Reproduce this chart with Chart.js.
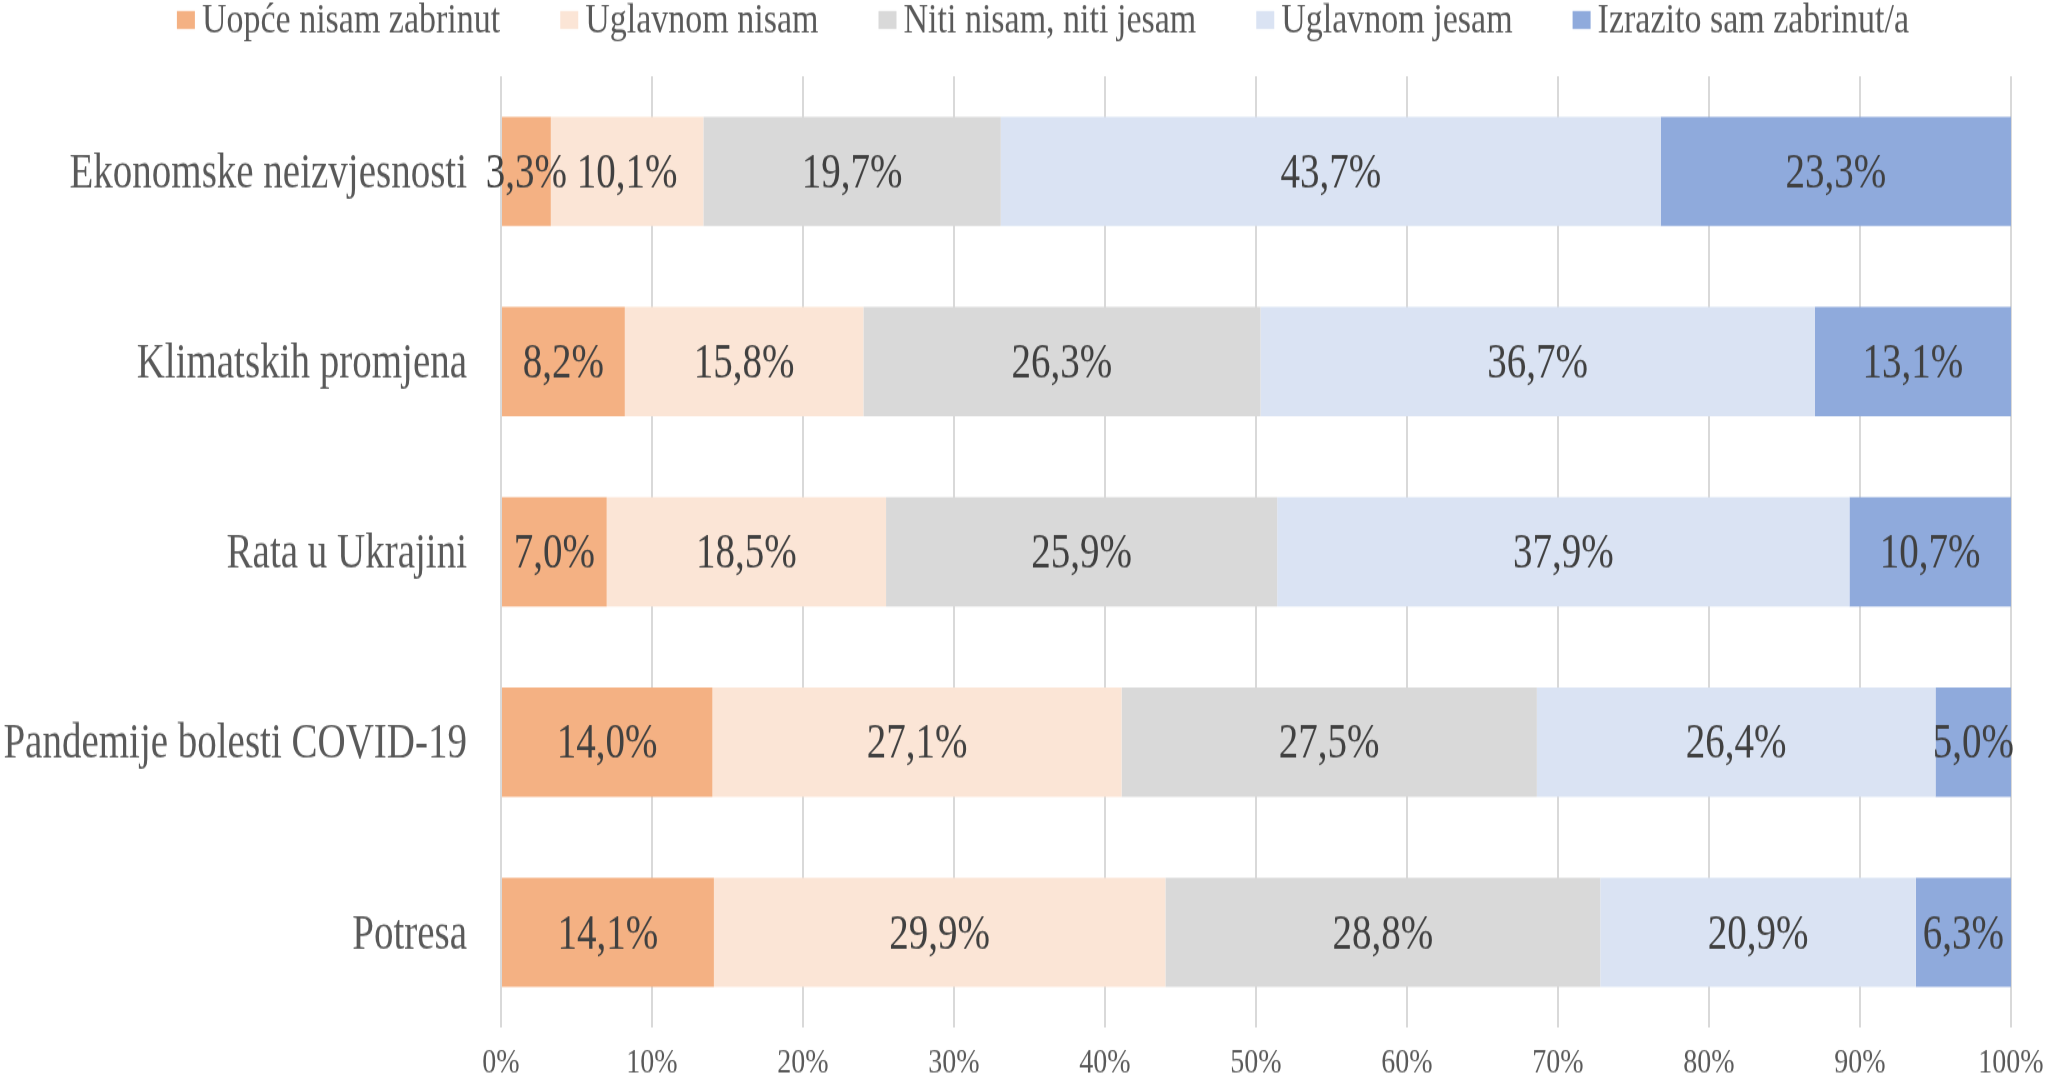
<!DOCTYPE html>
<html>
<head>
<meta charset="utf-8">
<script src="https://cdn.jsdelivr.net/npm/chart.js@4.4.1/dist/chart.umd.min.js"></script>
<style>
  html, body { margin: 0; padding: 0; background: #fff; overflow: hidden; }
  /* the original is drawn a bit tall: 860px bitmap shown 1075px high */
  #chart { display: block; width: 2064px; height: 1075px; }
</style>
</head>
<body>
<canvas id="chart" width="2064" height="860" style="width:2064px;height:1075px"></canvas>
<script>
// categories (top to bottom)
const categories = ['Ekonomske neizvjesnosti', 'Klimatskih promjena', 'Rata u Ukrajini', 'Pandemije bolesti COVID-19', 'Potresa'];

// series names
const seriesNames = ['Uopće nisam zabrinut', 'Uglavnom nisam', 'Niti nisam, niti jesam', 'Uglavnom jesam', 'Izrazito sam zabrinut/a'];

// values in %
const uopceNisam    = [3.3, 8.2, 7.0, 14.0, 14.1];
const uglavnomNisam = [10.1, 15.8, 18.5, 27.1, 29.9];
const nitiNiti      = [19.7, 26.3, 25.9, 27.5, 28.8];
const uglavnomJesam = [43.7, 36.7, 37.9, 26.4, 20.9];
const izrazito      = [23.3, 13.1, 10.7, 5.0, 6.3];

// x axis ticks
const xTicks = [0, 10, 20, 30, 40, 50, 60, 70, 80, 90, 100];

const colors = ['#F4B183', '#FBE5D6', '#D9D9D9', '#DAE3F3', '#8FAADC'];
const seriesValues = [uopceNisam, uglavnomNisam, nitiNiti, uglavnomJesam, izrazito];

const FONT = "'Liberation Serif', 'DejaVu Serif', serif";
const fmt = v => v.toFixed(1).replace('.', ',') + '%';

// legend row drawn by hand (built-in one couples item gap and height)
const topLegend = {
  id: 'topLegend',
  afterDraw(chart) {
    const ctx = chart.ctx;
    const ds = chart.data.datasets;
    const boxW = 18, boxH = 14.4, textGap = 7, itemGap = 60, cy = 16;
    ctx.save();
    ctx.font = '34px ' + FONT;
    ctx.textBaseline = 'middle';
    ctx.textAlign = 'left';
    const widths = ds.map(d => boxW + textGap + ctx.measureText(d.label).width);
    const total = widths.reduce((a, b) => a + b, 0) + itemGap * (ds.length - 1);
    let x = 1043 - total / 2;
    ds.forEach((d, i) => {
      ctx.fillStyle = d.backgroundColor;
      ctx.fillRect(x, cy - boxH / 2, boxW, boxH);
      ctx.fillStyle = '#595959';
      ctx.fillText(d.label, x + boxW + textGap, cy + 1);
      x += widths[i] + itemGap;
    });
    ctx.restore();
  }
};

// value labels in the middle of each segment
const segmentLabels = {
  id: 'segmentLabels',
  afterDatasetsDraw(chart) {
    const ctx = chart.ctx;
    ctx.save();
    ctx.font = '39px ' + FONT;
    ctx.fillStyle = '#404040';
    ctx.textAlign = 'center';
    ctx.textBaseline = 'middle';
    chart.data.datasets.forEach((ds, di) => {
      const meta = chart.getDatasetMeta(di);
      meta.data.forEach((bar, i) => {
        const right = Math.min(bar.x, chart.chartArea.right);
        const cx = (bar.base + right) / 2;
        ctx.fillText(fmt(ds.data[i]), cx, bar.y + 2.5);
      });
    });
    ctx.restore();
  }
};

new Chart(document.getElementById('chart'), {
  type: 'bar',
  data: {
    labels: categories,
    datasets: seriesNames.map((name, i) => ({
      label: name,
      data: seriesValues[i],
      backgroundColor: colors[i],
      borderWidth: 0,
      barPercentage: 0.574,
      categoryPercentage: 1
    }))
  },
  options: {
    indexAxis: 'y',
    responsive: false,
    animation: false,
    devicePixelRatio: 1,
    layout: { padding: { left: 0, right: 53, top: 61, bottom: 0 } },
    plugins: {
      legend: { display: false },
      tooltip: { enabled: false }
    },
    scales: {
      x: {
        stacked: true,
        min: 0,
        max: 100,
        afterBuildTicks: scale => { scale.ticks = xTicks.map(v => ({ value: v })); },
        afterFit: scale => { scale.height = 38; },
        grid: { color: '#D9D9D9', lineWidth: 2, drawTicks: false },
        border: { display: false },
        ticks: {
          font: { family: FONT, size: 28 },
          color: '#595959',
          padding: 12,
          maxRotation: 0,
          callback: v => v + '%'
        }
      },
      y: {
        stacked: true,
        afterFit: scale => {
          scale.width = 501;
          scale.paddingTop = 0;
          scale.paddingBottom = 0;
        },
        grid: { display: false, drawTicks: false },
        border: { display: false },
        ticks: {
          font: { family: FONT, size: 39 },
          color: '#595959',
          padding: 34,
          labelOffset: 2.5
        }
      }
    }
  },
  plugins: [topLegend, segmentLabels]
});
</script>
</body>
</html>
